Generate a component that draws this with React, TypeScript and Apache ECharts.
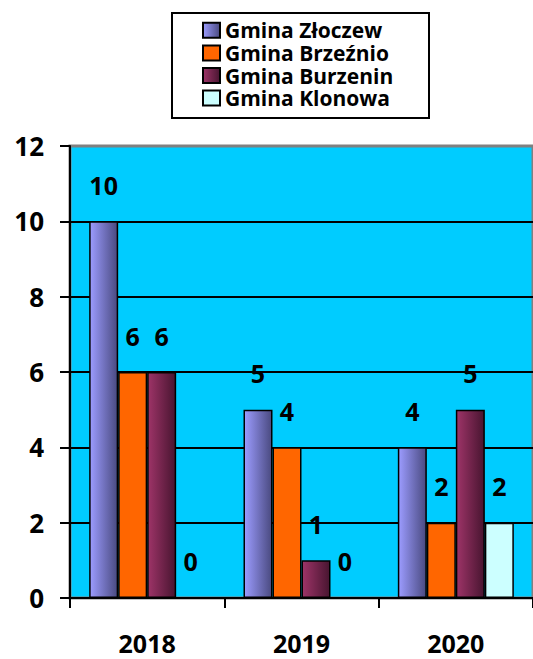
import React, { useEffect, useRef } from "react";
import * as echarts from "echarts";

const categories = ["2018", "2019", "2020"];
const seriesNames = ["Gmina Złoczew", "Gmina Brzeźnio", "Gmina Burzenin", "Gmina Klonowa"];
const zloczew = [10, 5, 4];
const brzeznio = [6, 4, 2];
const burzenin = [6, 1, 5];
const klonowa = [0, 0, 2];
const yTicks = { min: 0, max: 12, interval: 2 };

const FONT = "'Open Sans', sans-serif";

function grad(c0: string, c1: string) {
  return new echarts.graphic.LinearGradient(0, 0, 1, 0, [
    { offset: 0, color: c0 },
    { offset: 1, color: c1 },
  ]);
}

export default function App() {
  const ref = useRef<HTMLDivElement>(null);
  useEffect(() => {
    if (!ref.current) return;
    const chart = echarts.init(ref.current, undefined, { renderer: "svg" });
    const fills = [
      grad("#9c9cff", "#4a4a80"),
      "#ff6600",
      grad("#9e3468", "#481530"),
      "#ccffff",
    ];
    const values = [zloczew, brzeznio, burzenin, klonowa];
    chart.setOption({
      animation: false,
      backgroundColor: "#ffffff",
      graphic: [
        {
          type: "rect",
          z: 0,
          shape: { x: 172, y: 13, width: 257, height: 105 },
          style: { fill: "#ffffff", stroke: "#000000", lineWidth: 2 },
        },
      ],
      legend: {
        orient: "vertical",
        left: 202,
        top: 19,
        z: 10,
        padding: 0,
        itemGap: 0,
        itemWidth: 17,
        itemHeight: 15,
        icon: "rect",
        selectedMode: false,
        data: seriesNames,
        textStyle: {
          fontFamily: FONT,
          fontWeight: "bold",
          fontSize: 21,
          color: "#000",
          lineHeight: 22.6,
        },
      },
      grid: {
        left: 70,
        top: 146,
        width: 468,
        height: 452,
        show: true,
        backgroundColor: "#00ccff",
        borderColor: "#808080",
        borderWidth: 3,
        containLabel: false,
      },
      xAxis: {
        type: "category",
        data: categories,
        axisLine: { lineStyle: { color: "#000", width: 2 } },
        axisTick: { show: true, length: 10, lineStyle: { color: "#000", width: 2 } },
        axisLabel: {
          margin: 35,
          fontFamily: FONT,
          fontWeight: "bold",
          fontSize: 25,
          lineHeight: 20,
          color: "#000",
        },
      },
      yAxis: {
        type: "value",
        min: yTicks.min,
        max: yTicks.max,
        interval: yTicks.interval,
        axisLine: { show: true, lineStyle: { color: "#000", width: 2 } },
        axisTick: { show: true, length: 10, lineStyle: { color: "#000", width: 2 } },
        splitLine: { show: true, showMaxLine: false, lineStyle: { color: "#000", width: 2 } },
        axisLabel: {
          margin: 26,
          fontFamily: FONT,
          fontWeight: "bold",
          fontSize: 26,
          color: "#000",
        },
      },
      series: seriesNames.map((name, i) => ({
        name,
        type: "bar",
        data: values[i],
        barWidth: 29,
        barGap: "0%",
        itemStyle: { color: fills[i], borderColor: "#000", borderWidth: 1.5 },
        label: {
          show: true,
          position: "top",
          distance: 24,
          fontFamily: FONT,
          fontWeight: "bold",
          fontSize: 25,
          color: "#000",
        },
      })),
    });
    return () => chart.dispose();
  }, []);
  return (
    <div
      ref={ref}
      style={{ position: "fixed", left: 0, top: 0, width: 533, height: 659 }}
    />
  );
}
